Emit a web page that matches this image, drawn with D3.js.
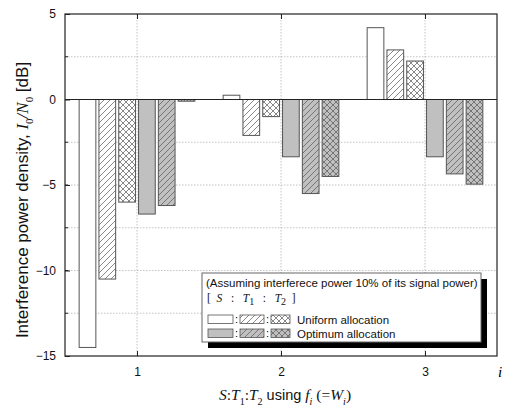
<!DOCTYPE html>
<html><head><meta charset="utf-8">
<script src="https://cdn.jsdelivr.net/npm/d3@7"></script>
<style>body{margin:0;background:#fff}svg{display:block}</style>
</head><body>
<script>
const categories = [1, 2, 3];
const seriesNames = ["S uniform", "T1 uniform", "T2 uniform", "S optimum", "T1 optimum", "T2 optimum"];
const uniformS  = [-14.5, 0.25, 4.2];
const uniformT1 = [-10.5, -2.1, 2.9];
const uniformT2 = [-6.0, -1.0, 2.25];
const optimumS  = [-6.7, -3.35, -3.35];
const optimumT1 = [-6.2, -5.5, -4.35];
const optimumT2 = [-0.1, -4.5, -4.95];
const yTicks = [5, 0, -5, -10, -15];
const yGrid = [2.5, -2.5, -5, -7.5, -10, -12.5];
const xTicks = [1, 2, 3];

const series = [uniformS, uniformT1, uniformT2, optimumS, optimumT1, optimumT2];
const fills = ["#fff", "url(#hatchW)", "url(#crossW)", "#c0c0c0", "url(#hatchG)", "url(#crossG)"];

const W = 505, H = 410;
const svg = d3.select("body").append("svg").attr("width", W).attr("height", H);
const L = 65, R = 497, T = 14, B = 356;
const x = d3.scaleLinear().domain([0.5, 3.5]).range([L, R]);
const y = d3.scaleLinear().domain([-15, 5]).range([B, T]);

const defs = svg.append("defs");
function hatch(id, bg, cross) {
  const p = defs.append("pattern").attr("id", id).attr("patternUnits", "userSpaceOnUse")
    .attr("width", 6).attr("height", 6);
  p.append("rect").attr("width", 6).attr("height", 6).attr("fill", bg);
  const lines = [[0,6,6,0],[-1,1,1,-1],[5,7,7,5]];
  if (cross) lines.push([0,0,6,6],[-1,5,1,7],[5,-1,7,1]);
  lines.forEach(l => p.append("line").attr("x1", l[0]).attr("y1", l[1]).attr("x2", l[2]).attr("y2", l[3])
    .attr("stroke", "#555").attr("stroke-width", 0.7));
}
hatch("hatchW", "#fff", false);
hatch("crossW", "#fff", true);
hatch("hatchG", "#c0c0c0", false);
hatch("crossG", "#c0c0c0", true);

// grid
const g = svg.append("g");
g.selectAll(".hg").data(yGrid).join("line")
  .attr("x1", L).attr("x2", R).attr("y1", d => y(d)).attr("y2", d => y(d))
  .attr("stroke", "#aaa").attr("stroke-width", 0.7).attr("stroke-dasharray", "1.5,1.5");
g.selectAll(".vg").data(xTicks).join("line")
  .attr("y1", T).attr("y2", B).attr("x1", d => x(d)).attr("x2", d => x(d))
  .attr("stroke", "#aaa").attr("stroke-width", 0.7).attr("stroke-dasharray", "1.5,1.5");

// bars
const pitch = 0.1375, bw = 0.116;
series.forEach((vals, k) => {
  svg.append("g").selectAll("rect").data(vals.map((v, i) => ({c: categories[i], v})))
    .join("rect")
    .attr("x", d => x(d.c + (k - 2.5) * pitch - bw / 2))
    .attr("width", x(bw) - x(0))
    .attr("y", d => y(Math.max(0, d.v)))
    .attr("height", d => Math.abs(y(d.v) - y(0)))
    .attr("fill", fills[k]).attr("stroke", "#555").attr("stroke-width", 1);
});

// zero line
svg.append("line").attr("x1", L).attr("x2", R).attr("y1", y(0)).attr("y2", y(0))
  .attr("stroke", "#222").attr("stroke-width", 1);

// frame
svg.append("rect").attr("x", L).attr("y", T).attr("width", R - L).attr("height", B - T)
  .attr("fill", "none").attr("stroke", "#222").attr("stroke-width", 1.2);

const sans = "Arial, Liberation Sans, sans-serif";
const ser = "Liberation Serif, Times New Roman, serif";

// y ticks
const yAxis = d3.axisLeft(y).tickValues(yTicks).tickSize(-5).tickPadding(9);
const ya = svg.append("g").attr("transform", `translate(${L},0)`).call(yAxis);
ya.select(".domain").remove();
ya.selectAll("line").attr("stroke", "#222");
ya.selectAll("text").attr("font-family", sans).attr("font-size", 12).attr("fill", "#111");
svg.append("g").selectAll("line").data(yGrid).join("line")
  .attr("x1", L).attr("x2", L + 3).attr("y1", d => y(d)).attr("y2", d => y(d)).attr("stroke", "#222");

// x ticks bottom & top
const xAxis = d3.axisBottom(x).tickValues(xTicks).tickSize(-5).tickPadding(11).tickFormat(d3.format("d"));
const xa = svg.append("g").attr("transform", `translate(0,${B})`).call(xAxis);
xa.select(".domain").remove();
xa.selectAll("line").attr("stroke", "#222");
xa.selectAll("text").attr("font-family", sans).attr("font-size", 12).attr("fill", "#111");
const xt = svg.append("g").attr("transform", `translate(0,${T})`).call(d3.axisTop(x).tickValues(xTicks).tickSize(-5).tickFormat(""));
xt.select(".domain").remove();
xt.selectAll("line").attr("stroke", "#222");

// "i" label
svg.append("text").attr("x", 498).attr("y", 377).attr("font-family", ser)
  .attr("font-style", "italic").attr("font-size", 15).text("i");

// y title
const yt = svg.append("text").attr("transform", "translate(28,200) rotate(-90)").attr("text-anchor", "middle")
  .attr("font-family", sans).attr("font-size", 17).attr("fill", "#111");
yt.append("tspan").text("Interference power density, ");
yt.append("tspan").attr("font-family", ser).attr("font-style", "italic").text("I");
yt.append("tspan").attr("font-family", ser).attr("font-size", 11).attr("dy", 5).text("0");
yt.append("tspan").attr("font-family", ser).attr("font-style", "italic").attr("dy", -5).text("/N");
yt.append("tspan").attr("font-family", ser).attr("font-size", 11).attr("dy", 5).text("0");
yt.append("tspan").attr("dy", -5).text(" [dB]");

// x title
const xtt = svg.append("text").attr("x", 285).attr("y", 400).attr("text-anchor", "middle")
  .attr("font-family", ser).attr("font-size", 15.5).attr("fill", "#111");
xtt.append("tspan").attr("font-style", "italic").text("S");
xtt.append("tspan").text(":");
xtt.append("tspan").attr("font-style", "italic").text("T");
xtt.append("tspan").attr("font-size", 10).attr("dy", 5).text("1");
xtt.append("tspan").attr("dy", -5).text(":");
xtt.append("tspan").attr("font-style", "italic").text("T");
xtt.append("tspan").attr("font-size", 10).attr("dy", 5).text("2");
xtt.append("tspan").attr("dy", -5).attr("font-family", sans).attr("font-size", 14.5).text(" using ");
xtt.append("tspan").attr("font-style", "italic").text("f");
xtt.append("tspan").attr("font-style", "italic").attr("font-size", 10).attr("dy", 5).text("i");
xtt.append("tspan").attr("dy", -5).text(" (=");
xtt.append("tspan").attr("font-style", "italic").text("W");
xtt.append("tspan").attr("font-style", "italic").attr("font-size", 10).attr("dy", 5).text("i");
xtt.append("tspan").attr("dy", -5).text(")");

// legend
const lg = svg.append("g");
lg.append("rect").attr("x", 208).attr("y", 279).attr("width", 279).attr("height", 69).attr("fill", "#000");
lg.append("rect").attr("x", 202).attr("y", 273).attr("width", 279).attr("height", 69).attr("fill", "#fff")
  .attr("stroke", "#666").attr("stroke-width", 1);
lg.append("text").attr("x", 206).attr("y", 287).attr("font-family", sans).attr("font-size", 11.5).attr("fill", "#111")
  .text("(Assuming interferece power 10% of its signal power)");
const hdr = lg.append("text").attr("x", 207).attr("y", 302).attr("font-family", ser).attr("font-size", 11.5).attr("fill", "#111").attr("xml:space", "preserve");
hdr.append("tspan").text("[  ");
hdr.append("tspan").attr("font-style", "italic").text("S");
hdr.append("tspan").text("   :   ");
hdr.append("tspan").attr("font-style", "italic").text("T");
hdr.append("tspan").attr("font-size", 10).attr("dy", 3).text("1");
hdr.append("tspan").attr("dy", -3).text("   :   ");
hdr.append("tspan").attr("font-style", "italic").text("T");
hdr.append("tspan").attr("font-size", 10).attr("dy", 3).text("2");
hdr.append("tspan").attr("dy", -3).text("  ]");
const rows = [{y: 315, f: [0, 1, 2], t: "Uniform allocation"}, {y: 329, f: [3, 4, 5], t: "Optimum allocation"}];
const sw = [[208, 25], [240, 24], [271, 19]];
rows.forEach(r => {
  r.f.forEach((fi, j) => {
    lg.append("rect").attr("x", sw[j][0]).attr("y", r.y).attr("width", sw[j][1]).attr("height", 8.5)
      .attr("fill", fills[fi]).attr("stroke", "#555").attr("stroke-width", 0.8);
  });
  lg.append("text").attr("x", 236.5).attr("y", r.y + 8).attr("text-anchor", "middle").attr("font-family", sans).attr("font-size", 11).text(":");
  lg.append("text").attr("x", 267.5).attr("y", r.y + 8).attr("text-anchor", "middle").attr("font-family", sans).attr("font-size", 11).text(":");
  lg.append("text").attr("x", 297).attr("y", r.y + 9).attr("font-family", sans).attr("font-size", 11.5).attr("fill", "#111").text(r.t);
});
</script>
</body></html>
